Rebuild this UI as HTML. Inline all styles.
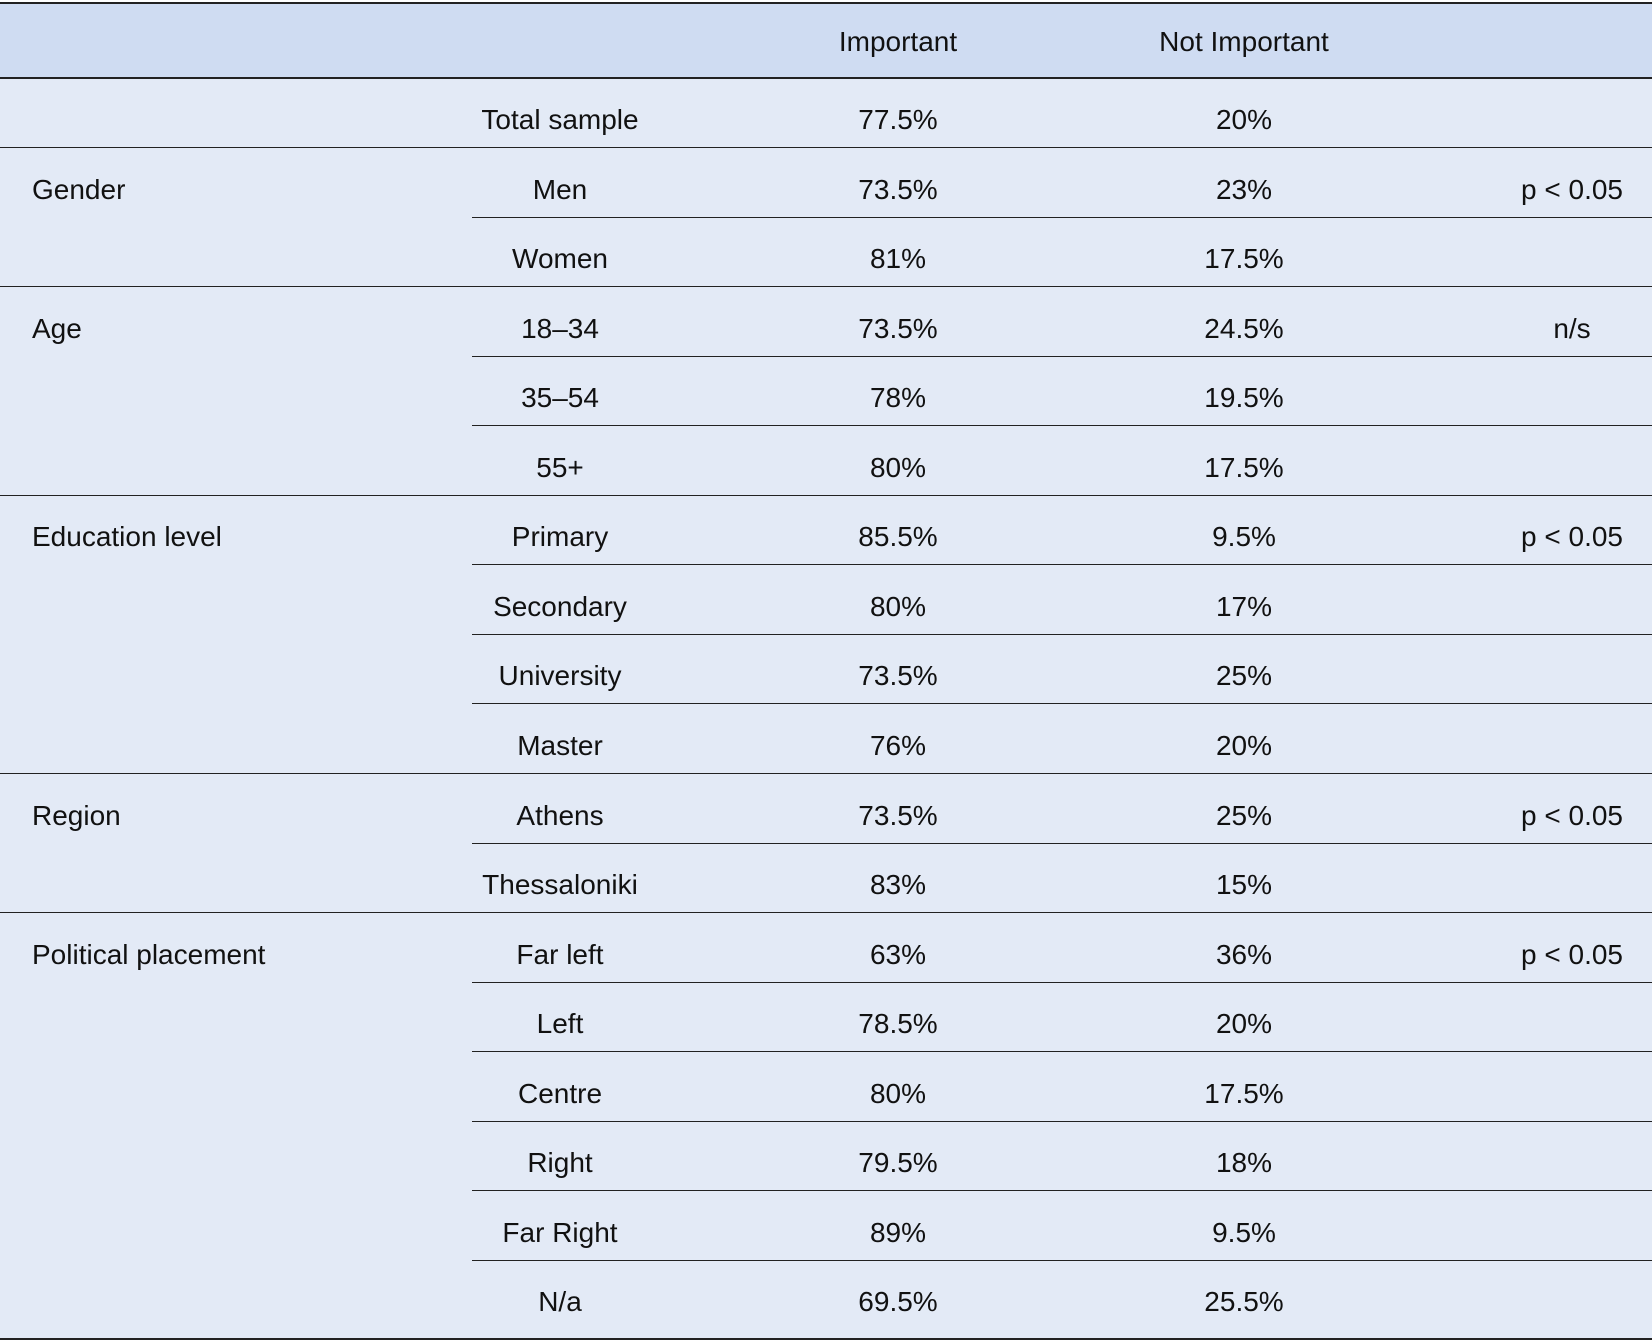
<!DOCTYPE html>
<html><head><meta charset="utf-8"><style>
body{margin:0;width:1652px;height:1343px;background:#fff;position:relative;overflow:hidden;font-family:"Liberation Sans",sans-serif;font-size:28px;color:#111}
.hd{position:absolute;left:0;top:3px;width:1652px;height:75px;background:#cfdcf2}
.bd{position:absolute;left:0;top:78px;width:1652px;height:1261px;background:#e3eaf6}
.l{position:absolute;height:0;border-top:1.5px solid #222}
.t{position:absolute;line-height:30px;white-space:nowrap}
.c{transform:translateX(-50%)}
</style></head><body>
<div class="hd"></div><div class="bd"></div>
<div class="l" style="left:0;width:1652px;top:2px;border-top-width:2.5px"></div>
<div class="l" style="left:0;width:1652px;top:77px;border-top-width:2px"></div>
<div class="l" style="left:0;width:1652px;top:1338px;border-top-width:2.5px"></div>
<div id="g"></div>
<script>
var H='<div class="t c" style="left:898px;top:27px">Important</div><div class="t c" style="left:1244px;top:27px">Not Important</div>';
var rows=[["","Total sample","77.5%","20%","",1],["Gender","Men","73.5%","23%","p < 0.05",1],["","Women","81%","17.5%","",0],["Age","18–34","73.5%","24.5%","n/s",1],["","35–54","78%","19.5%","",0],["","55+","80%","17.5%","",0],["Education level","Primary","85.5%","9.5%","p < 0.05",1],["","Secondary","80%","17%","",0],["","University","73.5%","25%","",0],["","Master","76%","20%","",0],["Region","Athens","73.5%","25%","p < 0.05",1],["","Thessaloniki","83%","15%","",0],["Political placement","Far left","63%","36%","p < 0.05",1],["","Left","78.5%","20%","",0],["","Centre","80%","17.5%","",0],["","Right","79.5%","18%","",0],["","Far Right","89%","9.5%","",0],["","N/a","69.5%","25.5%","",0]];
for(var i=0;i<rows.length;i++){var r=rows[i];var y=78+69.55*i;var ty=y+27;
if(i>0){H+='<div class="l" style="left:'+(r[5]?0:472)+'px;width:'+(r[5]?1652:1180)+'px;top:'+(y-0.5)+'px"></div>';}
if(r[0])H+='<div class="t" style="left:32px;top:'+ty+'px">'+r[0]+'</div>';
H+='<div class="t c" style="left:560px;top:'+ty+'px">'+r[1]+'</div>';
H+='<div class="t c" style="left:898px;top:'+ty+'px">'+r[2]+'</div>';
H+='<div class="t c" style="left:1244px;top:'+ty+'px">'+r[3]+'</div>';
if(r[4])H+='<div class="t c" style="left:1572px;top:'+ty+'px">'+r[4]+'</div>';}
document.getElementById('g').innerHTML=H;
</script>
</body></html>
